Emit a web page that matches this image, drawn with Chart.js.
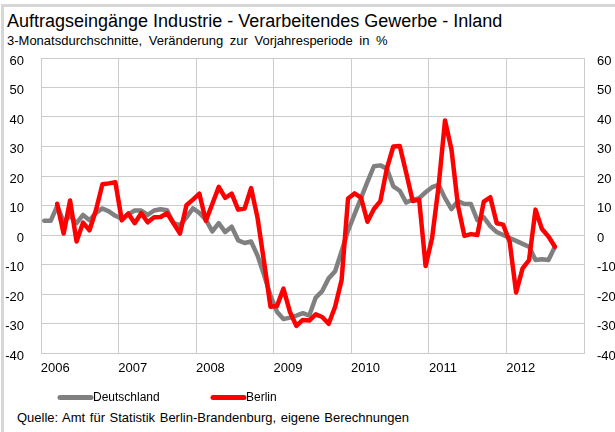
<!DOCTYPE html>
<html lang="de">
<head>
<meta charset="utf-8">
<title>Auftragseingänge Industrie</title>
<script src="https://cdn.jsdelivr.net/npm/chart.js@4.4.1/dist/chart.umd.min.js"></script>
<style>
  body {
    margin: 0;
    width: 615px;
    height: 432px;
    overflow: hidden;
    background: #fff;
    position: relative;
    font-family: "Liberation Sans", Arial, sans-serif;
    color: #000;
  }
  #rahmen {
    position: absolute;
    left: 1px;
    top: 4px;
    width: 700px;
    height: 500px;
    border-top: 3px solid #d6d6d6;
    border-left: 3px solid #d6d6d6;
  }
  .text {
    position: absolute;
    white-space: nowrap;
  }
  #titel { left: 7px; top: 12px; font-size: 18px; line-height: 18px; }
  #untertitel { left: 7px; top: 34px; font-size: 13px; line-height: 13px; word-spacing: 3px; }
  #quelle { left: 17px; top: 411px; font-size: 13px; line-height: 13px; word-spacing: 1px; }
  #box { position: absolute; left: 0; top: 0; width: 615px; height: 432px; }
</style>
</head>
<body>
<div id="rahmen"></div>
<div class="text" id="titel">Auftragseingänge Industrie - Verarbeitendes Gewerbe - Inland</div>
<div class="text" id="untertitel">3-Monatsdurchschnitte, Veränderung zur Vorjahresperiode in %</div>
<div class="text" id="quelle">Quelle: Amt für Statistik Berlin-Brandenburg, eigene Berechnungen</div>
<div id="box"><canvas id="chart"></canvas></div>

<script>
// Jahre auf der Zeitachse, je 12 Monate
const jahre = ["2006", "2007", "2008", "2009", "2010", "2011", "2012"];

// Monatswerte ab Januar 2006, Veränderung zum Vorjahr in %
const deutschland = [
  4.8, 4.8, 9.8, 4.5, 6.5, 4, 6.8, 5, 7.5, 9, 8, 6.5,
  5.5, 7, 8.3, 8.3, 6.8, 8.3, 8.7, 8.4, 4, 3.3, 6, 9,
  7.5, 5.2, 1.2, 4, 1, 2.8, -1.8, -2.7, -2.2, -7, -13.5, -20.5,
  -26, -28.5, -28, -27.3, -26.5, -27.3, -21.2, -19, -14.7, -12.3, -5.5, 1.5,
  7, 12.5, 18, 23.3, 23.6, 22.5, 16.5, 15, 11, 12, 12.5, 14.5,
  16.2, 17, 12.5, 8.8, 11.5, 10.5, 10.5, 5, 6, 3, 1, 0,
  -1, -2, -3, -4, -8.5, -8.2, -8.5, -4
];

const berlin = [
  null, null, 10.6, 0.5, 11.7, -2.2, 4.2, 1.6, 8.4, 17.2, 17.5, 17.9,
  5, 7.3, 4, 7.4, 4.3, 6, 6.1, 7.4, 4, 0.5, 10.1, 12,
  14, 4.8, 10.5, 16.3, 12.6, 14, 8.6, 9, 15.9, 5.8, -9, -24.3,
  -24.1, -18.2, -26, -30.8, -28.8, -29, -26.9, -27.8, -30.1, -24.3, -15.3, 12.4,
  14.1, 12.7, 4.5, 8.8, 11.5, 22.5, 30, 30.2, 21, 11.5, 12, -10.5,
  -1, 16.4, 38.8, 29, 10, -0.3, 0.3, 0, 11.3, 12.8, 4, 3.5,
  -2.3, -19.5, -11.3, -8.5, 8.6, 2, -0.5, -4
];

const monate = [];
jahre.forEach(j => {
  for (let m = 1; m <= 12; m++) monate.push(m + "." + j);
});

const gitter = "#cccccc";
const schrift = { family: '"Liberation Sans", Arial, sans-serif', size: 13 };

// Legende unter der Achse, eigene Positionen
const legende = {
  id: "legende",
  afterDraw(chart) {
    const ctx = chart.ctx;
    const pos = [[60, 91, 93], [213, 244, 246]];
    ctx.save();
    ctx.font = '12px "Liberation Sans", Arial, sans-serif';
    ctx.textBaseline = "middle";
    ctx.fillStyle = "#000";
    chart.data.datasets.forEach((ds, i) => {
      const [x0, x1, xt] = pos[i];
      ctx.strokeStyle = ds.borderColor;
      ctx.lineWidth = 5;
      ctx.lineCap = "round";
      ctx.beginPath();
      ctx.moveTo(x0, 397.5);
      ctx.lineTo(x1, 397.5);
      ctx.stroke();
      ctx.fillText(ds.label, xt, 398);
    });
    ctx.restore();
  }
};

new Chart("chart", {
  type: "line",
  data: {
    labels: monate,
    datasets: [
      {
        label: "Deutschland",
        data: deutschland,
        borderColor: "#808080",
        borderWidth: 4.5,
        pointRadius: 0,
        tension: 0,
        borderJoinStyle: "round",
        borderCapStyle: "round",
        order: 2,
      },
      {
        label: "Berlin",
        data: berlin,
        borderColor: "#ff0000",
        borderWidth: 4.5,
        pointRadius: 0,
        tension: 0,
        borderJoinStyle: "round",
        borderCapStyle: "round",
        order: 1,
      },
    ],
  },
  options: {
    responsive: true,
    maintainAspectRatio: false,
    animation: false,
    layout: { padding: { top: 58, left: 0, right: 0, bottom: 54 } },
    plugins: {
      legend: { display: false },
      tooltip: { enabled: false },
    },
    scales: {
      x: {
        type: "category",
        offset: true,
        grid: {
          offset: true,
          drawTicks: false,
          color: (c) => (c.index !== undefined && c.index % 12 === 0 ? gitter : "transparent"),
        },
        border: { color: gitter },
        ticks: {
          autoSkip: false,
          maxRotation: 0,
          minRotation: 0,
          labelOffset: 11,
          padding: 8,
          color: "#000",
          font: schrift,
          callback: (v, i) => (i % 12 === 0 ? jahre[i / 12] : ""),
        },
        afterFit: (s) => { s.height = 25; },
      },
      y: {
        position: "left",
        min: -40,
        max: 60,
        ticks: { stepSize: 10, padding: 17, labelOffset: 3, color: "#000", font: schrift },
        grid: { color: gitter, drawTicks: false },
        border: { color: gitter },
        afterFit: (s) => { s.width = 41; },
      },
      y2: {
        position: "right",
        min: -40,
        max: 60,
        ticks: { stepSize: 10, padding: 13, labelOffset: 3, color: "#000", font: schrift },
        grid: { display: false, drawTicks: false },
        border: { color: gitter },
        afterFit: (s) => { s.width = 31; },
      },
    },
  },
  plugins: [legende],
});
</script>
</body>
</html>
